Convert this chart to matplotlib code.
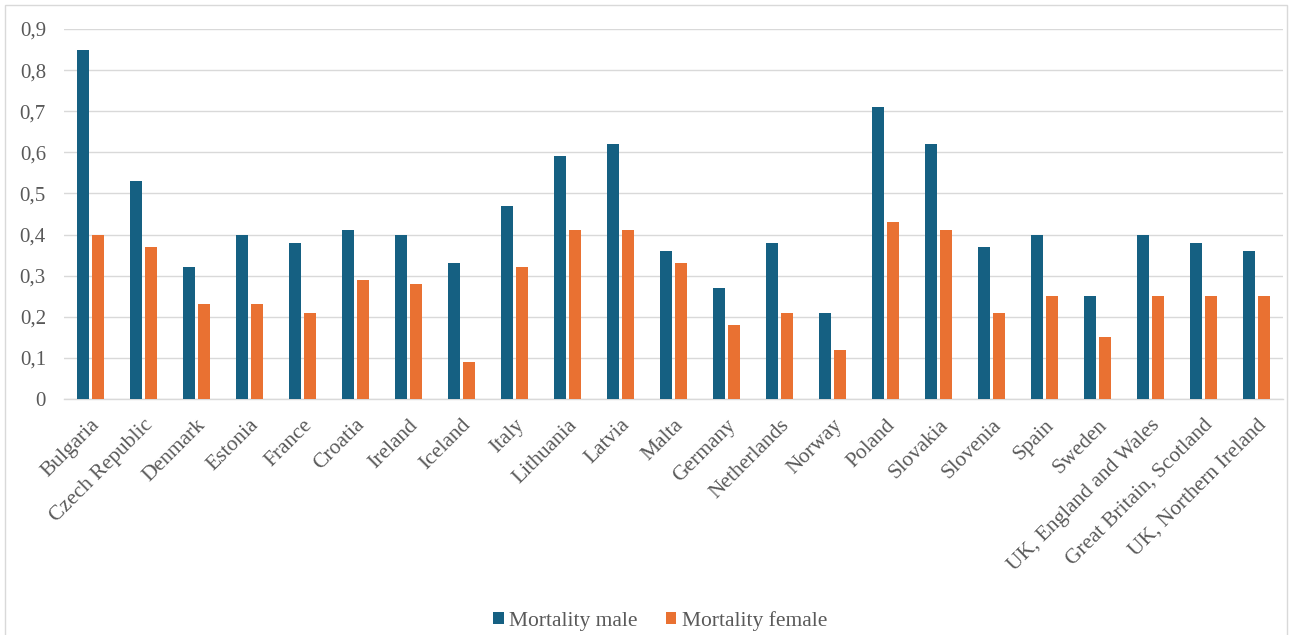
import matplotlib
matplotlib.use("Agg")
import matplotlib.pyplot as plt
import numpy as np
from matplotlib.patches import Rectangle

countries = ["Bulgaria", "Czech Republic", "Denmark", "Estonia", "France", "Croatia",
             "Ireland", "Iceland", "Italy", "Lithuania", "Latvia", "Malta", "Germany",
             "Netherlands", "Norway", "Poland", "Slovakia", "Slovenia", "Spain", "Sweden",
             "UK, England and Wales", "Great Britain, Scotland", "UK, Northern Ireland"]
mortality_male = [0.85, 0.53, 0.32, 0.40, 0.38, 0.41, 0.40, 0.33, 0.47, 0.59, 0.62, 0.36,
                  0.27, 0.38, 0.21, 0.71, 0.62, 0.37, 0.40, 0.25, 0.40, 0.38, 0.36]
mortality_female = [0.40, 0.37, 0.23, 0.23, 0.21, 0.29, 0.28, 0.09, 0.32, 0.41, 0.41, 0.33,
                    0.18, 0.21, 0.12, 0.43, 0.41, 0.21, 0.25, 0.15, 0.25, 0.25, 0.25]
y_ticks = [0, 0.1, 0.2, 0.3, 0.4, 0.5, 0.6, 0.7, 0.8, 0.9]
y_labels = ["0", "0,1", "0,2", "0,3", "0,4", "0,5", "0,6", "0,7", "0,8", "0,9"]

plt.rcParams['font.family'] = ['Liberation Serif', 'DejaVu Serif']

fig = plt.figure(figsize=(12.92, 6.35), dpi=100)
ax = fig.add_axes([64/1292, 1 - 399/635, (1283 - 64)/1292, (399 - 29)/635])

x = np.arange(len(countries))
w = 0.225
off = 0.142
blue = "#156082"
orange = "#E97132"
ax.bar(x - off, mortality_male, w, color=blue, label="Mortality male", zorder=3)
ax.bar(x + off, mortality_female, w, color=orange, label="Mortality female", zorder=3)

ax.set_xlim(-0.5, len(countries) - 0.5)
ax.set_ylim(0, 0.9)
ax.set_yticks(y_ticks)
ax.set_yticklabels(y_labels)
ax.yaxis.grid(True, color="#D9D9D9", linewidth=1.0, zorder=0)
ax.set_axisbelow(True)
for s in ["top", "right", "left"]:
    ax.spines[s].set_visible(False)
ax.spines["bottom"].set_color("#D9D9D9")
ax.spines["bottom"].set_linewidth(1.0)
ax.tick_params(axis="y", length=0, colors="#595959", labelsize=15, pad=13)
ax.tick_params(axis="x", length=0, colors="#595959", labelsize=15.5, pad=12)
ax.set_xticks(x)
ax.set_xticklabels(countries, rotation=45, ha="right", rotation_mode="anchor")

leg = fig.legend(loc="center", bbox_to_anchor=(660/1292, 1 - 621/635), ncol=2, frameon=False,
                 fontsize=15.5, handlelength=0.5, handleheight=0.5, handletextpad=0.25,
                 columnspacing=1.3, borderpad=0.2)
for t in leg.get_texts():
    t.set_color("#595959")

fig.patches.append(Rectangle((5/1292, -0.05), (1287 - 5)/1292, 1.05 - 5/635,
                             transform=fig.transFigure, fill=False,
                             edgecolor="#D9D9D9", linewidth=1.0))

fig.savefig("out.png", dpi=100)
